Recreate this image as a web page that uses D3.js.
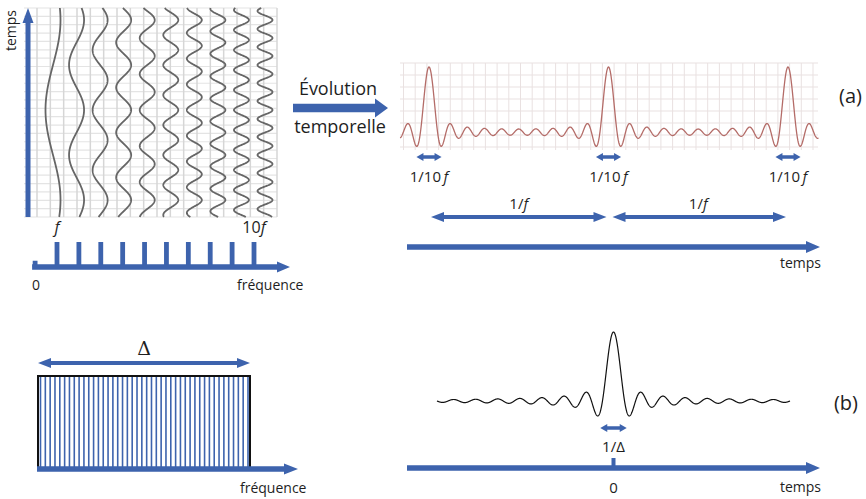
<!DOCTYPE html>
<html>
<head>
<meta charset="utf-8">
<script src="https://cdn.jsdelivr.net/npm/d3@7"></script>
<style>
  html, body { margin: 0; padding: 0; background: #fff; }
  svg { display: block; font-family: "Open Sans", "Noto Sans", sans-serif; }
</style>
</head>
<body>
<svg id="chart" width="866" height="499"></svg>
<script>
/* Fourier picture: (a) ten harmonics f..10f summed -> pulse train of period 1/f,
   (b) continuous band of width Delta -> single sinc pulse of width 1/Delta. */

// ---- data ----
var harmonics = [1, 2, 3, 4, 5, 6, 7, 8, 9, 10];          // k, in units of f
var spectrumFreq = [0, 1, 2, 3, 4, 5, 6, 7, 8, 9, 10];     // spectrum lines (units of f)
var spectrumAmp = [0.25, 1, 1, 1, 1, 1, 1, 1, 1, 1, 1];   // relative line heights
var freqLabels = [{ k: 1, num: '', it: 'f' }, { k: 10, num: '10', it: 'f' }];
var peakTimes = [0, 1, 2];                                 // pulses, in units of 1/f
var periodSpans = [[0, 1], [1, 2]];
var signalSpan = [-0.16, 2.17];                            // visible time window (1/f)
var pulseHalfWidth = 0.07;                                 // half of 1/10f arrow (1/f)
var bandCount = 44;                                        // lines inside the band Delta
var sincSpan = [-16, 16];                                  // time window, units of 1/Delta

var BLUE = '#3d63ad', TEXT = '#1e1e1e';
var svg = d3.select('#chart');

function hArrow(g, x1, x2, y, w, hl, hh, both) {
  var p = d3.path();
  var a = both ? x1 + hl : x1, b = x2 - hl;
  p.moveTo(a, y - w / 2); p.lineTo(b, y - w / 2); p.lineTo(b, y - hh / 2);
  p.lineTo(x2, y); p.lineTo(b, y + hh / 2); p.lineTo(b, y + w / 2); p.lineTo(a, y + w / 2);
  if (both) { p.lineTo(a, y + hh / 2); p.lineTo(x1, y); p.lineTo(a, y - hh / 2); }
  p.closePath();
  g.append('path').attr('d', p.toString()).attr('fill', BLUE);
}

function label(g, x, y, parts, size, anchor) {
  var t = g.append('text').attr('x', x).attr('y', y)
    .attr('text-anchor', anchor || 'middle')
    .style('font-size', size + 'px').style('fill', TEXT);
  parts.forEach(function (p) {
    var s = t.append('tspan').text(p[0]);
    if (p[1]) s.style('font-style', 'italic');
  });
  return t;
}

/* ================= (a) left: harmonics in time ================= */
var gA = svg.append('g');
var gridL = { x0: 24, x1: 277, y0: 8, y1: 217 };
var vGrid = d3.scaleLinear().domain([0, 18]).range([37, 277]);
var hGrid = d3.scaleLinear().domain([0, 25]).range([gridL.y0, gridL.y1]);
d3.range(26).forEach(function (i) {
  gA.append('line').attr('x1', gridL.x0).attr('x2', gridL.x1)
    .attr('y1', hGrid(i)).attr('y2', hGrid(i))
    .attr('stroke', '#e4e4e4').attr('stroke-width', 1.2);
});
d3.range(19).forEach(function (i) {
  gA.append('line').attr('x1', vGrid(i)).attr('x2', vGrid(i))
    .attr('y1', gridL.y0).attr('y2', gridL.y1)
    .attr('stroke', '#d6d6d6').attr('stroke-width', 1.5);
});

var xWave = d3.scaleLinear().domain([1, 10]).range([53, 265]);
var tWave = d3.scaleLinear().domain([0, 1]).range([200, 20]);   // time runs upward
var ampWave = d3.scaleLinear().domain([-1, 1]).range([-7.5, 7.5]);
var tLo = tWave.invert(gridL.y1), tHi = tWave.invert(gridL.y0);
harmonics.forEach(function (k) {
  var pts = d3.range(0, 501).map(function (i) { return tLo + (tHi - tLo) * i / 500; });
  var line = d3.line()
    .x(function (t) { return xWave(k) + ampWave(Math.cos(2 * Math.PI * k * t)); })
    .y(function (t) { return tWave(t); });
  gA.append('path').attr('d', line(pts)).attr('fill', 'none')
    .attr('stroke', '#666').attr('stroke-width', 1.8);
});

// vertical time arrow
(function () {
  var x = 28, w = 5, hl = 15, hh = 11, yb = gridL.y1, yt = gridL.y0;
  var p = d3.path();
  p.moveTo(x - w / 2, yb); p.lineTo(x - w / 2, yt + hl); p.lineTo(x - hh / 2, yt + hl);
  p.lineTo(x, yt); p.lineTo(x + hh / 2, yt + hl); p.lineTo(x + w / 2, yt + hl);
  p.lineTo(x + w / 2, yb); p.closePath();
  gA.append('path').attr('d', p.toString()).attr('fill', BLUE);
})();
gA.append('text').attr('transform', 'translate(16,10) rotate(-90)')
  .attr('text-anchor', 'end').style('font-size', '14px').style('fill', TEXT).text('temps');

// spectrum
var xF = d3.scaleLinear().domain([1, 10]).range([57, 254]);
var yAmp = d3.scaleLinear().domain([0, 1]).range([267, 242]);
spectrumFreq.forEach(function (k, i) {
  gA.append('rect').attr('x', xF(k) - 2.4).attr('width', 4.8)
    .attr('y', yAmp(spectrumAmp[i])).attr('height', yAmp(0) - yAmp(spectrumAmp[i]))
    .attr('fill', BLUE);
});
hArrow(gA, xF(0) - 3, 290, yAmp(0), 5.5, 13, 11, false);
freqLabels.forEach(function (d) {
  label(gA, xF(d.k), 233, [[d.num, false], [d.it, true]], 16);
});
label(gA, xF(0) + 1, 290, [['0', false]], 14);
label(gA, 237, 290, [['fréquence', false]], 14, 'start');

/* ================= arrow "Évolution temporelle" ================= */
label(svg, 338, 95, [['Évolution', false]], 18);
label(svg, 340, 133, [['temporelle', false]], 18);
hArrow(svg, 293, 388, 108, 8.5, 13, 19, false);
label(svg, 862, 103, [['(a)', false]], 20, 'end');

/* ================= (a) right: resulting signal ================= */
var gS = svg.append('g');
var xT = d3.scaleLinear().domain([0, 2]).range([429, 788]);
var yS = d3.scaleLinear().domain([0, 10]).range([129, 67]);
var gridR = { x0: 400, x1: 818, y0: 63, y1: 150 };
var vGridR = d3.scaleLinear().domain([0, 35]).range([403.5, 813]);
var hGridR = d3.scaleLinear().domain([0, 7]).range([63, 147]);
d3.range(8).forEach(function (i) {
  gS.append('line').attr('x1', gridR.x0).attr('x2', gridR.x1)
    .attr('y1', hGridR(i)).attr('y2', hGridR(i))
    .attr('stroke', '#e9e1e1').attr('stroke-width', 1);
});
d3.range(36).forEach(function (i) {
  gS.append('line').attr('x1', vGridR(i)).attr('x2', vGridR(i))
    .attr('y1', gridR.y0).attr('y2', gridR.y1)
    .attr('stroke', '#e9e1e1').attr('stroke-width', 1);
});
var tS = d3.range(0, 1201).map(function (i) {
  return signalSpan[0] + (signalSpan[1] - signalSpan[0]) * i / 1200;
});
var sigLine = d3.line()
  .x(function (t) { return xT(t); })
  .y(function (t) {
    return yS(d3.sum(harmonics, function (k) { return Math.cos(2 * Math.PI * k * t); }));
  });
gS.append('path').attr('d', sigLine(tS)).attr('fill', 'none')
  .attr('stroke', '#b46c68').attr('stroke-width', 1.3);

peakTimes.forEach(function (t) {
  hArrow(gS, xT(t - pulseHalfWidth), xT(t + pulseHalfWidth), 157, 3.5, 7, 8, true);
  label(gS, xT(t), 182, [['1/10\u2009', false], ['f', true]], 15);
});
periodSpans.forEach(function (s, i) {
  hArrow(gS, xT(s[0]) + (i ? 4 : 2), xT(s[1]) - 2, 217, 4, 13, 10, true);
  label(gS, (xT(s[0]) + xT(s[1])) / 2, 209, [['1/', false], ['f', true]], 15);
});
hArrow(gS, 407, 820, 247, 5.5, 14, 12, false);
label(gS, 821, 268, [['temps', false]], 14, 'end');

/* ================= (b) left: continuous band ================= */
var gB = svg.append('g');
var xBand = d3.scaleLinear().domain([0, 1]).range([38, 250]);
var yBand = d3.scaleLinear().domain([0, 1]).range([469, 376]);
var xLine = d3.scaleLinear().domain([0, bandCount - 1]).range([40.5, 248]);
d3.range(bandCount).forEach(function (i) {
  gB.append('line').attr('x1', xLine(i)).attr('x2', xLine(i))
    .attr('y1', yBand(1)).attr('y2', yBand(0))
    .attr('stroke', BLUE).attr('stroke-width', 1.6);
});
gB.append('path')
  .attr('d', 'M' + xBand(0) + ',' + yBand(0) + 'V' + yBand(1) + 'H' + xBand(1) + 'V' + yBand(0))
  .attr('fill', 'none').attr('stroke', '#111').attr('stroke-width', 2);
hArrow(gB, xBand(0), xBand(1), 363, 4, 13, 10, true);
gB.append('text').attr('x', (xBand(0) + xBand(1)) / 2).attr('y', 355)
  .attr('text-anchor', 'middle').style('font-family', '"DejaVu Serif", "Liberation Serif", serif')
  .style('font-size', '19px').style('fill', TEXT).text('\u0394');
hArrow(gB, xBand(0) - 1, 298, yBand(0), 5.5, 14, 11, false);
label(gB, 240, 493, [['fréquence', false]], 14, 'start');

/* ================= (b) right: single pulse ================= */
var gP = svg.append('g');
var xSinc = d3.scaleLinear().domain(sincSpan).range([437, 790]);
var ySinc = d3.scaleLinear().domain([0, 1]).range([401, 332]);
var uS = d3.range(0, 1601).map(function (i) {
  return sincSpan[0] + (sincSpan[1] - sincSpan[0]) * i / 1600;
});
var sincLine = d3.line()
  .x(function (u) { return xSinc(u); })
  .y(function (u) { return ySinc(u === 0 ? 1 : Math.sin(Math.PI * u) / (Math.PI * u)); });
gP.append('path').attr('d', sincLine(uS)).attr('fill', 'none')
  .attr('stroke', '#111').attr('stroke-width', 1.2);
hArrow(gP, xSinc(-1.2), xSinc(1.2), 428, 3.5, 7, 8, true);
label(gP, xSinc(0), 452, [['1/\u0394', false]], 15);
gP.append('rect').attr('x', xSinc(0) - 2).attr('width', 4).attr('y', 458).attr('height', 10)
  .attr('fill', BLUE);
hArrow(gP, 407, 820, 468, 5.5, 14, 12, false);
label(gP, xSinc(0), 493, [['0', false]], 15);
label(gP, 821, 492, [['temps', false]], 14, 'end');
label(svg, 858, 410, [['(b)', false]], 20, 'end');
</script>
</body>
</html>
